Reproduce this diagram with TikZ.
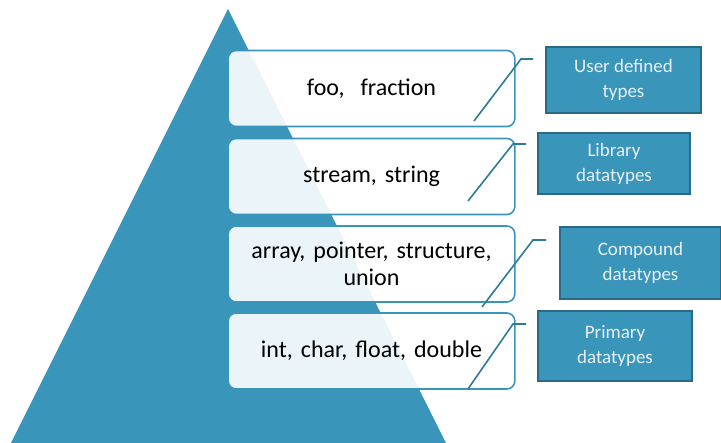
\documentclass[tikz,border=0pt]{standalone}
\usepackage{fontspec}
\setmainfont{Carlito}
\usepackage{xcolor}
\definecolor{pyrblue}{HTML}{3A95BA}
\definecolor{linkblue}{HTML}{2E7A99}
\definecolor{tagedge}{HTML}{2B6A86}
\definecolor{tagtext}{HTML}{E8F0F4}

\begin{document}
\begin{tikzpicture}[x=1pt, y=-1pt,
			layer/.style={draw=pyrblue, line width=1.6pt, fill=white, fill opacity=.9, text opacity=1,
				rounded corners=8pt, minimum width=285pt, minimum height=76pt, align=center,
				text width=280pt, font=\fontsize{24}{27}\selectfont},
			tag/.style={draw=tagedge, line width=1.4pt, fill=pyrblue, text=tagtext, align=center,
				inner sep=0pt, font=\fontsize{19}{25}\selectfont},
			link/.style={draw=linkblue, line width=1.6pt}]
			
			\useasboundingbox (0,0) rectangle (721,443);
			
			% the pyramid
			\fill[pyrblue] (228,9) -- (446,443) -- (11,443) -- cycle;
			
			% layers
			\node[layer] (user)  at (371.5,88.5) {foo,\ \ fraction};
			\node[layer] (lib)   at (371.5,176.5) {stream, string};
			\node[layer] (comp)  at (371.5,264) {array, pointer, structure,\\union};
			\node[layer] (prim)  at (371.5,351) {int, char, float, double};
			
			% tags
			\node[tag, minimum width=155pt, minimum height=66pt] (userT) at (623.5,80) {User defined\\types};
			\node[tag, minimum width=152pt, minimum height=61pt] (libT)  at (614,163.5) {Library\\datatypes};
			\node[tag, minimum width=161pt, minimum height=72pt] (compT) at (640.5,263) {Compound\\datatypes};
			\node[tag, minimum width=154pt, minimum height=70pt] (primT) at (615,346) {Primary\\datatypes};
			
			% leader lines
			\coordinate (userA) at (474,121); \coordinate (userB) at (521,59); \coordinate (userC) at (533,59);
			\coordinate (libA)  at (468,201); \coordinate (libB)  at (513,144); \coordinate (libC)  at (526,144);
			\coordinate (compA) at (482,307); \coordinate (compB) at (533,240); \coordinate (compC) at (546,240);
			\coordinate (primA) at (468,389); \coordinate (primB) at (513,324); \coordinate (primC) at (526,324);
			\draw[link] (userA) -- (userB) -- (userC);
			\draw[link] (libA) -- (libB) -- (libC);
			\draw[link] (compA) -- (compB) -- (compC);
			\draw[link] (primA) -- (primB) -- (primC);
		\end{tikzpicture}
\end{document}
